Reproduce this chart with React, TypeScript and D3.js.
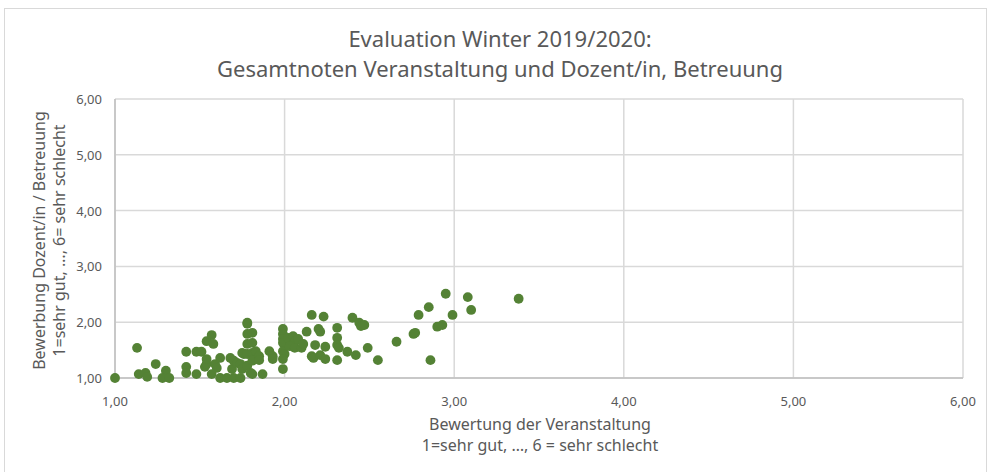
import React from "react";
import * as d3 from "d3";

const xValues: number[] = [
  1.0, 1.13, 1.14, 1.18, 1.19, 1.24, 1.3, 1.28, 1.32, 1.42, 1.42, 1.42, 1.48, 1.51, 1.48, 1.53, 1.54, 1.54, 1.58, 1.57,
  1.54, 1.59, 1.6, 1.57, 1.62, 1.62, 1.66, 1.7, 1.74, 1.68, 1.7, 1.69, 1.72, 1.74, 1.75, 1.76, 1.78, 1.78, 1.78, 1.81,
  1.78, 1.81, 1.75, 1.78, 1.81, 1.83, 1.78, 1.81, 1.8, 1.81, 1.85, 1.85, 1.87, 1.91, 1.93, 1.93, 1.99, 1.99, 1.99, 1.99,
  1.99, 2.0, 1.99, 1.99, 2.02, 2.05, 2.06, 2.08, 2.03, 2.06, 2.1, 2.11, 2.13, 2.16, 2.23, 2.2, 2.21, 2.18, 2.24, 2.16,
  2.17, 2.21, 2.24, 2.31, 2.31, 2.31, 2.32, 2.31, 2.37, 2.4, 2.44, 2.45, 2.47, 2.42, 2.49, 2.55, 2.66, 2.76, 2.77, 2.79,
  2.85, 2.86, 2.9, 2.93, 2.95, 2.99, 3.08, 3.1, 3.38,
];
const yValues: number[] = [
  1.0, 1.54, 1.07, 1.09, 1.02, 1.25, 1.13, 1.0, 1.0, 1.47, 1.2, 1.09, 1.47, 1.47, 1.07, 1.2, 1.25, 1.66, 1.61, 1.77,
  1.34, 1.25, 1.18, 1.07, 1.36, 1.0, 1.0, 1.0, 1.0, 1.36, 1.31, 1.16, 1.27, 1.25, 1.16, 1.43, 1.97, 1.99, 1.79, 1.81,
  1.61, 1.63, 1.45, 1.43, 1.45, 1.48, 1.22, 1.31, 1.09, 1.07, 1.39, 1.32, 1.07, 1.48, 1.39, 1.34, 1.88, 1.79, 1.7, 1.63,
  1.48, 1.43, 1.34, 1.16, 1.72, 1.75, 1.66, 1.7, 1.57, 1.54, 1.54, 1.61, 1.83, 2.13, 2.1, 1.88, 1.83, 1.59, 1.56, 1.39,
  1.36, 1.41, 1.34, 1.9, 1.72, 1.59, 1.54, 1.32, 1.47, 2.08, 1.99, 1.93, 1.95, 1.41, 1.54, 1.32, 1.65, 1.79, 1.81, 2.13,
  2.27, 1.32, 1.92, 1.95, 2.51, 2.13, 2.45, 2.22, 2.42,
];
const xTicks: number[] = [1, 2, 3, 4, 5, 6];
const yTicks: number[] = [1, 2, 3, 4, 5, 6];
const titleLines: string[] = ["Evaluation Winter 2019/2020:", "Gesamtnoten Veranstaltung und Dozent/in, Betreuung"];
const xTitleLines: string[] = ["Bewertung der Veranstaltung", "1=sehr gut, …, 6 = sehr schlecht"];
const yTitleLines: string[] = ["Bewerbung Dozent/in / Betreuung", "1=sehr gut, …, 6= sehr schlecht"];

const W = 988;
const H = 472;
const plot = { left: 115, right: 963, top: 99, bottom: 378 };
const FONT = "'Noto Sans', 'Open Sans', sans-serif";
const TEXT = "#595959";

export default function App() {
  const x = d3.scaleLinear().domain([1, 6]).range([plot.left, plot.right]);
  const y = d3.scaleLinear().domain([1, 6]).range([plot.bottom, plot.top]);
  const fmt = (v: number) => d3.format(".2f")(v).replace(".", ",");
  const points = xValues.map((xv, i) => ({ x: xv, y: yValues[i] }));
  const yMid = (plot.top + plot.bottom) / 2;
  const xMid = (plot.left + plot.right) / 2;

  return (
    <svg
      width={W}
      height={H}
      style={{ position: "absolute", left: 0, top: 0, fontFamily: FONT }}
    >
      <rect x={0} y={0} width={W} height={H} fill="#ffffff" />
      <rect x={4.5} y={8.5} width={W - 6} height={H + 10} fill="#ffffff" stroke="#d9d9d9" strokeWidth={1} />
      {titleLines.map((t, i) => (
        <text key={t} x={500} y={47 + i * 30} textAnchor="middle" fontSize={22} fill={TEXT}>
          {t}
        </text>
      ))}
      {xTicks.map((t) => (
        <line key={"gx" + t} x1={x(t)} x2={x(t)} y1={plot.top} y2={plot.bottom} stroke="#d9d9d9" strokeWidth={1.5} />
      ))}
      {yTicks.map((t) => (
        <line key={"gy" + t} x1={plot.left} x2={plot.right} y1={y(t)} y2={y(t)} stroke="#d9d9d9" strokeWidth={1.5} />
      ))}
      <line x1={plot.left} x2={plot.right} y1={plot.bottom} y2={plot.bottom} stroke="#bfbfbf" strokeWidth={1.5} />
      <line x1={plot.left} x2={plot.left} y1={plot.top} y2={plot.bottom} stroke="#bfbfbf" strokeWidth={1.5} />
      {xTicks.map((t) => (
        <text key={"tx" + t} x={x(t)} y={plot.bottom + 28} textAnchor="middle" fontSize={13} fill={TEXT}>
          {fmt(t)}
        </text>
      ))}
      {yTicks.map((t) => (
        <text key={"ty" + t} x={plot.left - 13} y={y(t) + 5} textAnchor="end" fontSize={13} fill={TEXT}>
          {fmt(t)}
        </text>
      ))}
      {xTitleLines.map((t, i) => (
        <text key={t} x={xMid + 1} y={430 + i * 21} textAnchor="middle" fontSize={16} fill={TEXT}>
          {t}
        </text>
      ))}
      {yTitleLines.map((t, i) => (
        <text
          key={t}
          transform={`translate(${45 + i * 20},${yMid + 2}) rotate(-90)`}
          textAnchor="middle"
          fontSize={16}
          fill={TEXT}
        >
          {t}
        </text>
      ))}
      {points.map((p, i) => (
        <circle key={i} cx={x(p.x)} cy={y(p.y)} r={4.9} fill="#548235" />
      ))}
    </svg>
  );
}
